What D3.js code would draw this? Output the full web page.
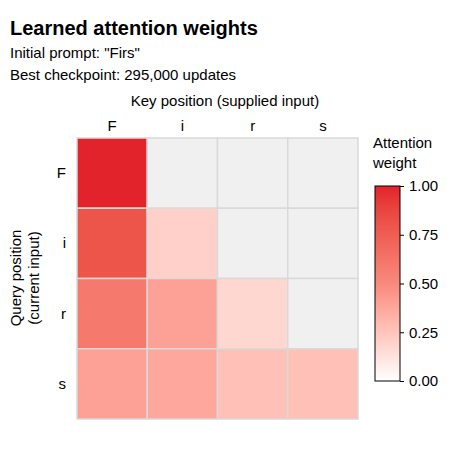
<!DOCTYPE html>
<html><head><meta charset="utf-8">
<script src="https://cdn.jsdelivr.net/npm/d3@7"></script>
<style>body{margin:0;background:#fff}text{font-family:"Liberation Sans",Arial,sans-serif}</style>
</head><body><svg id="c" width="459" height="459"></svg>
<script>
// tokens and attention matrix (null = masked future position)
const keys = ["F", "i", "r", "s"];
const queries = ["F", "i", "r", "s"];
const weights = [
  [1.00, null, null, null],
  [0.80, 0.20, null, null],
  [0.60, 0.40, 0.17, null],
  [0.40, 0.37, 0.27, 0.27]
];
const legendTicks = [0, 0.25, 0.5, 0.75, 1];

const svg = d3.select("#c");
const x = d3.scaleBand().domain(keys).range([77, 358]);
const y = d3.scaleBand().domain(queries).range([138, 419]);
const color = d3.scaleLinear().domain([0, 0.5, 1]).range(["#ffffff", "#f8897d", "#e3232c"]).interpolate(d3.interpolateLab);

svg.append("text").attr("x", 10).attr("y", 35).attr("font-size", 20).attr("font-weight", "bold").text("Learned attention weights");
svg.append("text").attr("x", 10).attr("y", 58).attr("font-size", 15).text('Initial prompt: "Firs"');
svg.append("text").attr("x", 10).attr("y", 80).attr("font-size", 15).text("Best checkpoint: 295,000 updates");

const cells = [];
weights.forEach((row, qi) => row.forEach((v, ki) => cells.push({q: queries[qi], k: keys[ki], v})));
svg.append("g").selectAll("rect").data(cells).join("rect")
  .attr("x", d => x(d.k)).attr("y", d => y(d.q))
  .attr("width", x.bandwidth()).attr("height", y.bandwidth())
  .attr("fill", d => d.v == null ? "#f0f0f0" : color(d.v))
  .attr("stroke", "#d9d9d9").attr("stroke-width", 1.5);

svg.append("g").selectAll("text").data(keys).join("text")
  .attr("x", d => x(d) + x.bandwidth() / 2).attr("y", 131).attr("text-anchor", "middle").attr("font-size", 15).text(d => d);
svg.append("g").selectAll("text").data(queries).join("text")
  .attr("x", 66).attr("y", d => y(d) + y.bandwidth() / 2 + 5).attr("text-anchor", "end").attr("font-size", 15).text(d => d);

svg.append("text").attr("x", 225).attr("y", 106).attr("text-anchor", "middle").attr("font-size", 15).text("Key position (supplied input)");
const yl = svg.append("text").attr("transform", "translate(21,278) rotate(-90)").attr("text-anchor", "middle").attr("font-size", 15);
yl.append("tspan").attr("x", 0).attr("dy", 0).text("Query position");
yl.append("tspan").attr("x", 0).attr("dy", 18).text("(current input)");

// colour bar
const ly = d3.scaleLinear().domain([0, 1]).range([381, 186]);
const grad = svg.append("defs").append("linearGradient").attr("id", "g").attr("x1", 0).attr("x2", 0).attr("y1", 1).attr("y2", 0);
d3.range(0, 1.01, 0.1).forEach(t => grad.append("stop").attr("offset", t).attr("stop-color", color(t)));
svg.append("text").attr("x", 373).attr("y", 148).attr("font-size", 15).text("Attention");
svg.append("text").attr("x", 373).attr("y", 168).attr("font-size", 15).text("weight");
svg.append("rect").attr("x", 375).attr("y", ly(1)).attr("width", 25).attr("height", ly(0) - ly(1))
  .attr("fill", "url(#g)").attr("stroke", "#000");
svg.append("g").attr("transform", "translate(400,0)")
  .call(d3.axisRight(ly).tickValues(legendTicks).tickFormat(d3.format(".2f")).tickSize(4))
  .call(g => g.select(".domain").remove())
  .call(g => g.selectAll("text").attr("font-size", 15).attr("x", 9).style("font-family", "Liberation Sans, Arial"));
</script></body></html>
